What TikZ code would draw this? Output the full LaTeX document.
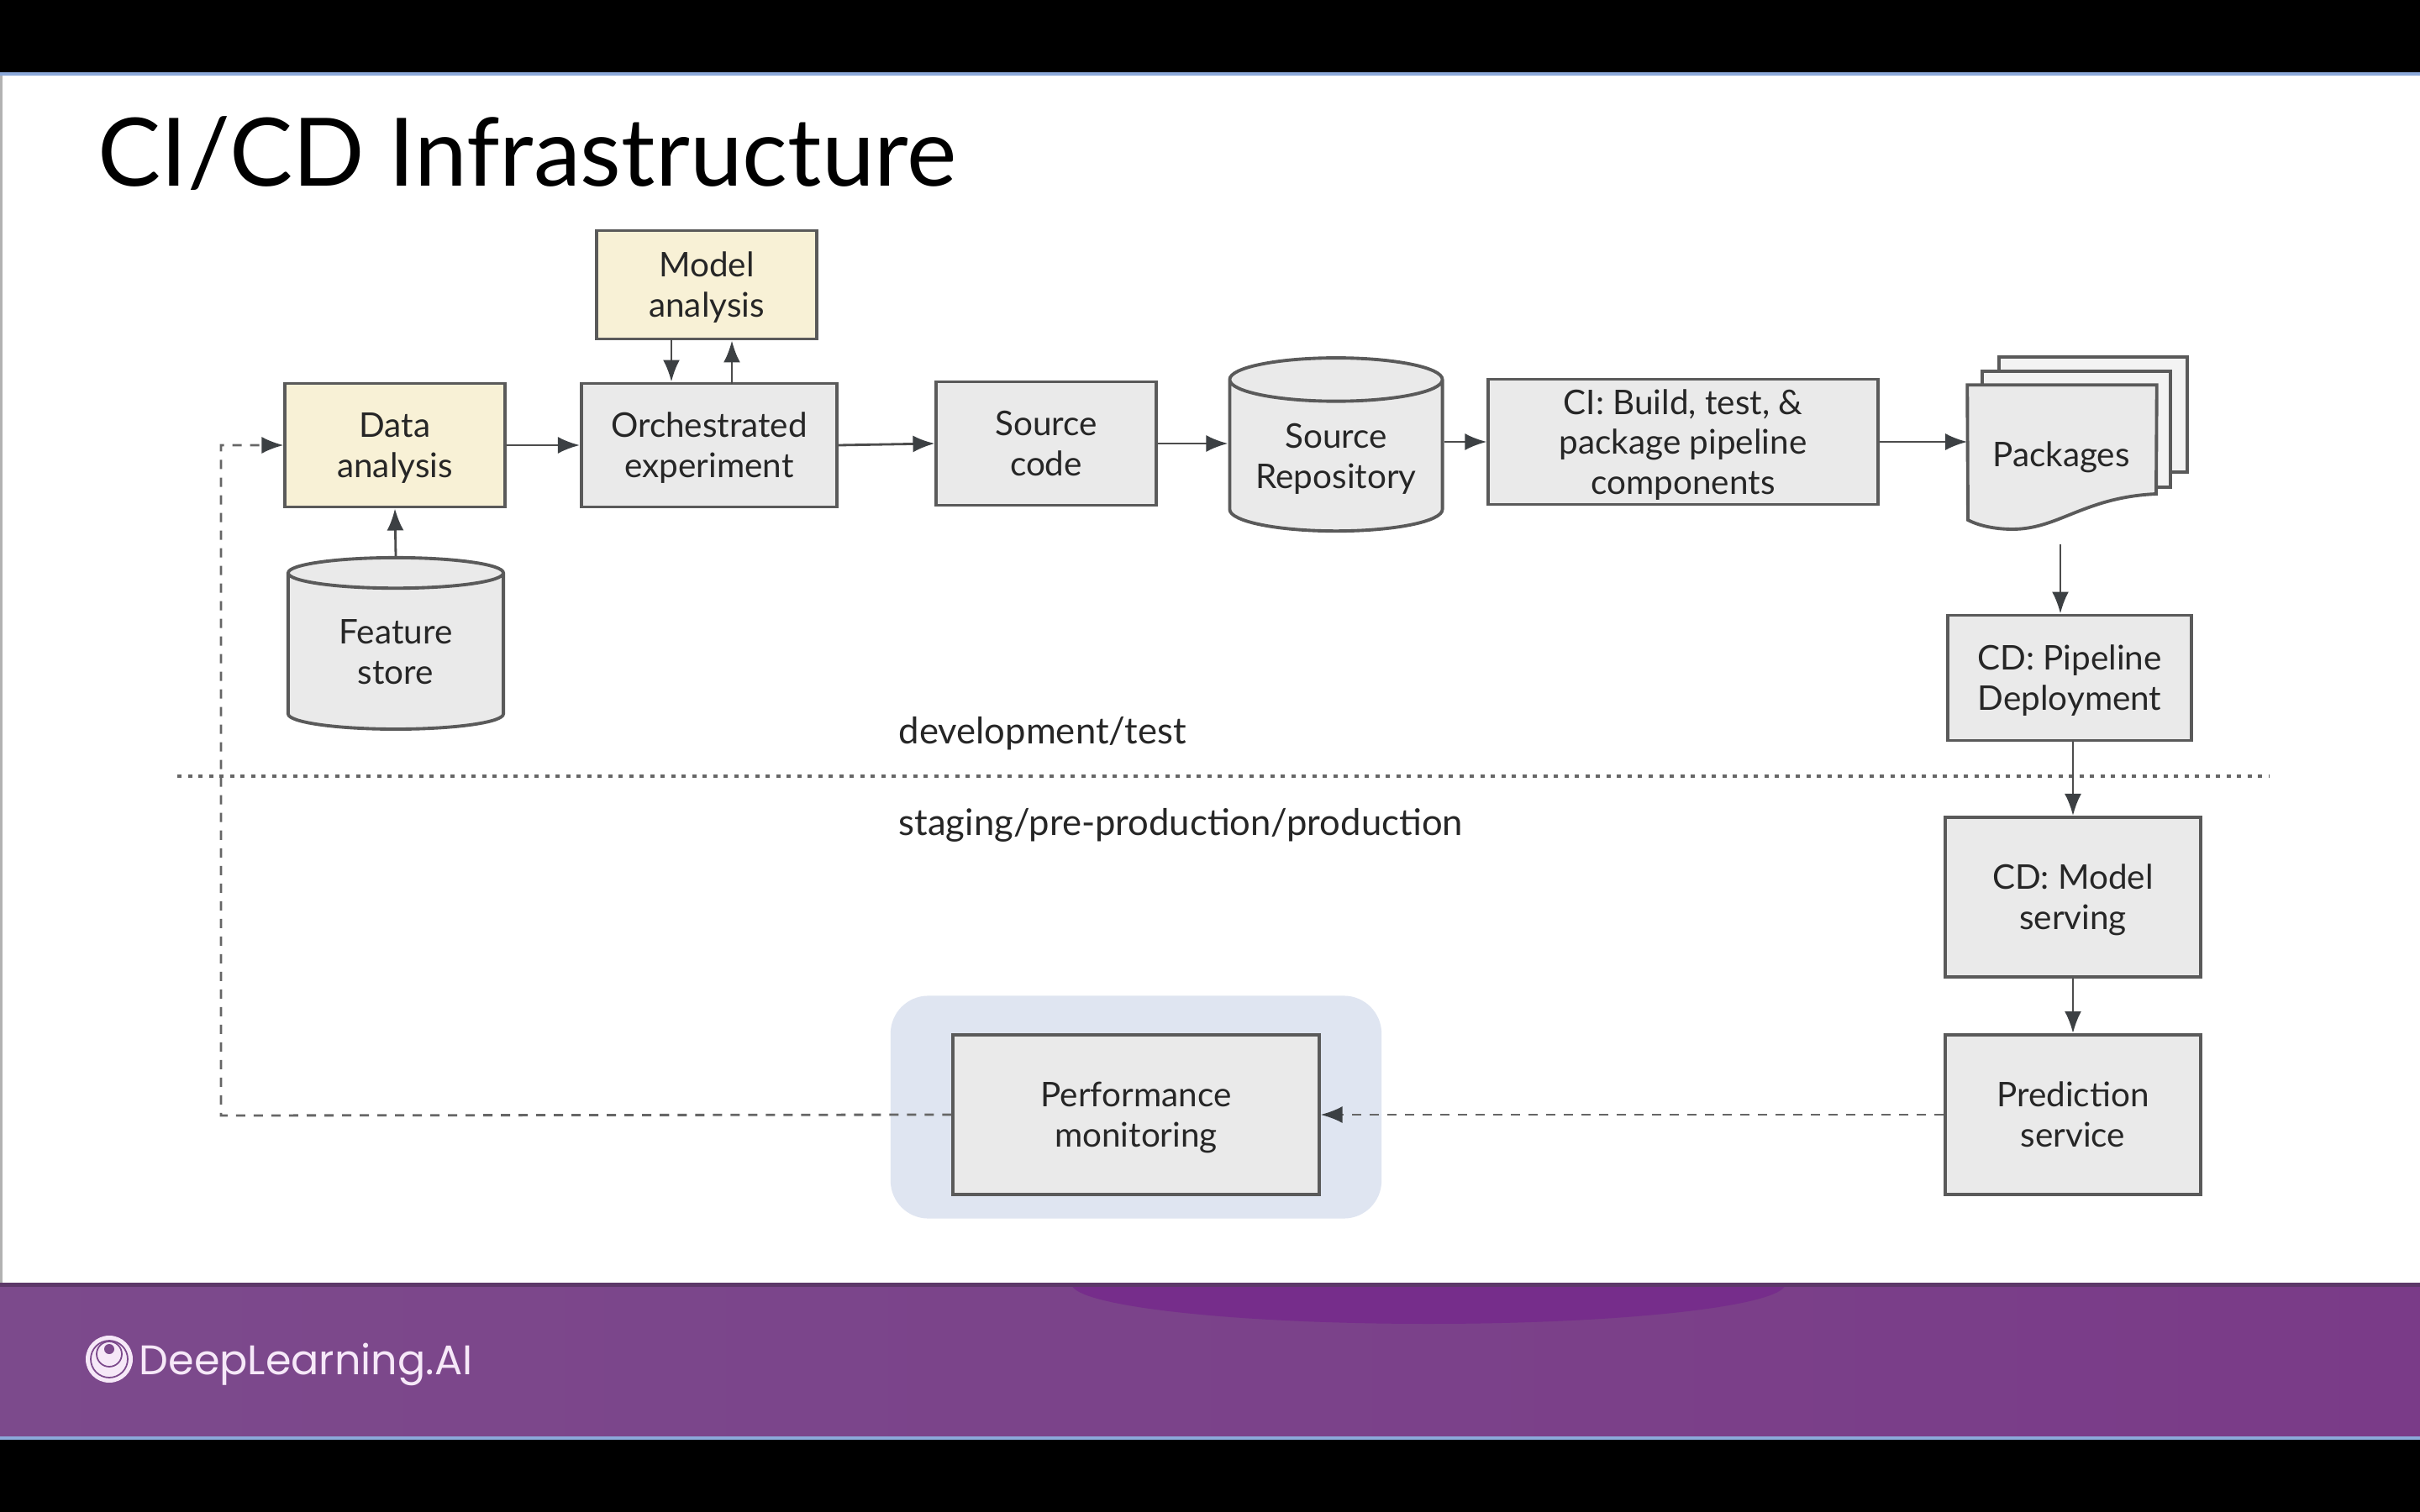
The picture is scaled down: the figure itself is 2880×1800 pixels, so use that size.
\documentclass[tikz,border=0pt]{standalone}
\usepackage{fontspec}
\setmainfont{Lato}
\newfontfamily\logofont{Poppins}
\usetikzlibrary{arrows.meta,shapes.geometric}

\definecolor{boxgray}{HTML}{EAEAEA}
\definecolor{sheetgray}{HTML}{F3F3F3}
\definecolor{boxline}{HTML}{5A5A5A}
\definecolor{noteyellow}{HTML}{F8F1D6}
\definecolor{tipgray}{HTML}{3C4043}
\definecolor{backblue}{HTML}{DFE5F1}
\definecolor{edgeblue}{HTML}{8CA9DA}
\definecolor{footleft}{HTML}{7C4A8C}
\definecolor{footmid}{HTML}{7A3F8A}
\definecolor{footright}{HTML}{7A3B88}
\definecolor{footdark}{HTML}{762D8B}
\definecolor{logowhite}{HTML}{F6E8F8}

\tikzset{
  box/.style={draw=boxline, fill=boxgray, line width=1.1pt, align=center, inner sep=0pt,
    text=black!85, font=\fontsize{11.5}{13.6}\selectfont, text depth=0pt},
  notebox/.style={box, fill=noteyellow},
  store/.style={box, cylinder, shape border rotate=90, aspect=0.27, cylinder uses custom fill,
    cylinder body fill=boxgray, cylinder end fill=sheetgray},
  flow/.style={draw=black!70, line width=0.8pt, -{Latex[length=2.6mm,width=2mm,color=tipgray]}},
  backflow/.style={flow, draw=black!60, dash pattern=on 1.1mm off 1mm},
  zonetext/.style={text=black!85, font=\fontsize{12.4}{14.2}\selectfont, anchor=west, inner sep=0pt}
}

\begin{document}
\begin{tikzpicture}[x=0.01cm,y=-0.01cm]
\useasboundingbox (0,0) rectangle (2880,1800);

\fill[black] (0,0) rectangle (2880,1800);
\fill[white] (0,88) rectangle (2880,1530);
\fill[black!30] (0,88) rectangle (3,1530);
\shade[left color=footleft, middle color=footmid, right color=footright] (0,1528) rectangle (2880,1712);
\begin{scope}
\clip (0,1528) rectangle (2880,1712);
\fill[footdark] (1700,1528) ellipse (425 and 48);
\end{scope}
\fill[black!25!footleft] (0,1527) rectangle (2880,1532);
\fill[edgeblue] (0,86) rectangle (2880,90);
\fill[edgeblue] (0,1710) rectangle (2880,1714);

\node[anchor=west, inner sep=0pt, font=\fontsize{32}{36}\selectfont] (title) at (116,183) {CI/CD Infrastructure};

\fill[logowhite] (130,1618) circle (28);
\draw[footleft, line width=0.5pt] (130,1618) circle (22);
\draw[footleft, line width=0.5pt] (130,1612) circle (15);
\fill[footleft] (130,1606) circle (6);
\node[anchor=west, inner sep=0pt, text=logowhite, font=\logofont\fontsize{14}{16}\selectfont] (brand) at (165,1624) {DeepLearning.AI};

\node[fill=backblue, rounded corners=0.45cm, minimum width=5.84cm, minimum height=2.65cm] (perfBack) at (1352,1318) {};

\node[notebox, minimum width=2.61cm, minimum height=1.29cm] (modelBox) at (841,339) {Model\\analysis};
\node[notebox, minimum width=2.61cm, minimum height=1.47cm] (dataBox) at (470,530) {Data\\analysis};
\node[box, minimum width=3.04cm, minimum height=1.47cm] (orchBox) at (844,530) {Orchestrated\\experiment};
\node[box, minimum width=2.61cm, minimum height=1.47cm] (srcBox) at (1245,528) {Source\\code};
\node[store, minimum width=2.53cm, minimum height=2.06cm] (repoStore) at (1590,543) {Source\\Repository};
\node[box, minimum width=4.63cm, minimum height=1.49cm] (ciBox) at (2003,526) {CI: Build, test, \&\\package pipeline\\components};
\node[store, minimum width=2.56cm, minimum height=2.04cm] (featStore) at (471,776) {Feature\\store};

\draw[draw=boxline, fill=sheetgray, line width=1.1pt] (2379,425) rectangle (2603,562);
\draw[draw=boxline, fill=sheetgray, line width=1.1pt] (2359,442) rectangle (2583,580);
\node[minimum width=2.24cm, minimum height=1.72cm, inner sep=0pt] (pkgShape) at (2454,545) {};
\draw[draw=boxline, fill=boxgray, line width=1.1pt] (pkgShape.north west) -- (pkgShape.north east) -- (2566,588)
  .. controls (2480,592) and (2450,630) .. (2395,630)
  .. controls (2375,630) and (2355,626) .. (2342,619) -- cycle;
\node[text=black!85, inner sep=0pt, font=\fontsize{11.5}{13.6}\selectfont] (pkgText) at (2453,544) {Packages};

\node[box, minimum width=2.90cm, minimum height=1.49cm] (cdPipe) at (2463,807) {CD: Pipeline\\Deployment};
\node[box, minimum width=3.03cm, minimum height=1.90cm] (cdModel) at (2467,1068) {CD: Model\\serving};
\node[box, minimum width=3.03cm, minimum height=1.90cm] (predBox) at (2467,1327) {Prediction\\service};
\node[box, minimum width=4.35cm, minimum height=1.90cm] (perfBox) at (1352,1327) {Performance\\monitoring};

\node[zonetext] (devText) at (1069,873) {development/test};
\node[zonetext] (stageText) at (1069,982) {staging/pre-production/production};
\coordinate (zoneLeft) at (211,924);
\coordinate (zoneRight) at (2700,924);
\draw[black!60, line width=0.9pt, dash pattern=on 0.5mm off 0.75mm] (zoneLeft) -- (zoneRight);

\coordinate (modelDown) at (799,404);
\coordinate (modelUp) at (871,457);
\coordinate (pkgOut) at (2452,648);
\coordinate (backCorner) at (263,1328);

\draw[flow] (dataBox) -- (orchBox);
\draw[flow] (orchBox.east) -- (srcBox.west);
\draw[flow] (srcBox.east) -- (srcBox.east -| repoStore.west);
\draw[flow] (ciBox.west -| repoStore.east) -- (ciBox.west);
\draw[flow] (ciBox.east) -- (ciBox.east -| pkgShape.west);
\draw[flow] (featStore.north) -- (dataBox.south);
\draw[flow] (modelDown) -- (modelDown |- orchBox.north);
\draw[flow] (modelUp) -- (modelUp |- modelBox.south);
\draw[flow] (pkgOut) -- (pkgOut |- cdPipe.north);
\draw[flow] (cdModel.north |- cdPipe.south) -- (cdModel.north);
\draw[flow] (cdModel.south) -- (predBox.north);
\draw[backflow] (predBox.west) -- (perfBox.east);
\draw[backflow] (perfBox.west) -- (backCorner) |- (dataBox.west);
\end{tikzpicture}
\end{document}
